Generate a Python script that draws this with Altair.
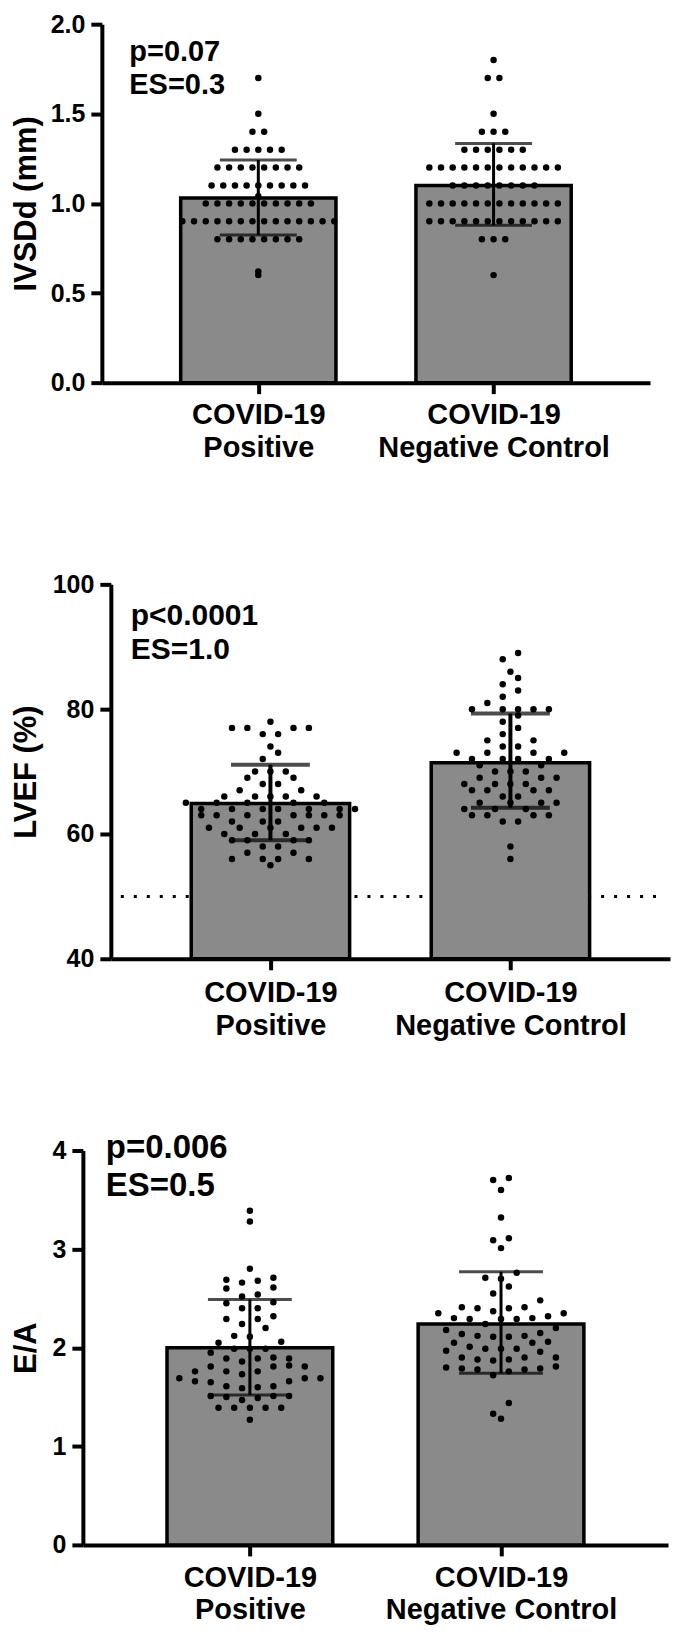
import math
import altair as alt
import pandas as pd

# ---------------- data ----------------
GROUPS = ["COVID-19|Positive", "COVID-19|Negative Control"]

IVSDD_POS = [1.7, 1.5, 1.4, 1.4,
             1.3, 1.3, 1.3, 1.3, 1.3,
             1.2, 1.2, 1.2, 1.2, 1.2, 1.2, 1.2, 1.2,
             1.1, 1.1, 1.1, 1.1, 1.1, 1.1, 1.1, 1.1, 1.1,
             1.04,
             1.0, 1.0, 1.0, 1.0, 1.0, 1.0, 1.0, 1.0, 1.0, 1.0,
             0.9, 0.9, 0.9, 0.9, 0.9, 0.9, 0.9, 0.9, 0.9, 0.9, 0.9, 0.9, 0.9, 0.9,
             0.8, 0.8, 0.8, 0.8, 0.8, 0.8, 0.8, 0.8,
             0.62, 0.6]
IVSDD_NEG = [1.8, 1.7, 1.7, 1.5, 1.4, 1.4, 1.4,
             1.3, 1.3, 1.3, 1.3, 1.3, 1.3,
             1.2, 1.2, 1.2, 1.2, 1.2, 1.2, 1.2, 1.2, 1.2, 1.2, 1.2, 1.2,
             1.1, 1.1, 1.1, 1.1, 1.1, 1.1, 1.1, 1.1,
             1.0, 1.0, 1.0, 1.0, 1.0, 1.0, 1.0, 1.0, 1.0, 1.0, 1.0, 1.0,
             0.9, 0.9, 0.9, 0.9, 0.9, 0.9, 0.9, 0.9, 0.9, 0.9, 0.9, 0.9,
             0.8, 0.8, 0.8, 0.6]
IVSDD_MEAN = [1.03, 1.10]
IVSDD_LO = [0.824, 0.878]
IVSDD_HI = [1.242, 1.335]

LVEF_POS = [78, 77, 77, 77, 77, 76, 76, 74, 73, 72, 70, 70, 70, 69, 69, 68, 68, 67, 67,
            66, 66, 66, 66, 66, 65, 65, 65, 65, 65,
            64, 64, 64, 64, 64, 64, 64, 63, 63, 63, 63, 63, 63, 63,
            62, 62, 62, 61, 61, 61, 61, 61, 61, 60, 60, 60, 59, 59, 59, 59,
            58, 58, 57, 57, 56, 56, 56, 56, 55]
LVEF_NEG = [89, 88, 86, 85, 84, 83, 82, 81, 80, 80, 80, 80, 80, 79, 78, 77, 76, 75, 75,
            74, 74, 73, 73, 73, 73, 72, 72, 72, 72, 71, 71, 70, 70, 70,
            69, 69, 69, 68, 68, 68, 68, 67, 67, 67, 67, 66, 66, 65, 65, 65, 65,
            64, 64, 64, 63, 63, 63, 63, 62, 62, 58, 56]
LVEF_MEAN = [64.9, 71.4]
LVEF_LO = [59.0, 64.2]
LVEF_HI = [71.1, 79.3]
LVEF_REF = [50]

EA_POS = [3.39, 3.28, 2.80, 2.71, 2.68, 2.69, 2.66, 2.60, 2.61, 2.54, 2.52, 2.46, 2.45,
          2.40, 2.40, 2.32, 2.29, 2.29, 2.24, 2.20, 2.12, 2.11, 2.05, 2.06, 1.99, 1.99,
          1.99, 1.95, 1.86, 1.89, 1.89, 1.90, 1.89, 1.82, 1.81, 1.81, 1.81, 1.76, 1.76,
          1.76, 1.69, 1.73, 1.69, 1.69, 1.66, 1.66, 1.65, 1.61, 1.60, 1.59, 1.61, 1.50,
          1.51, 1.51, 1.51, 1.47, 1.49, 1.39, 1.39, 1.39, 1.39, 1.39, 1.27]
EA_NEG = [3.70, 3.72, 3.60, 3.32, 3.11, 3.09, 3.01, 2.76, 2.70, 2.71, 2.62, 2.55, 2.48,
          2.40, 2.37, 2.40, 2.41, 2.41, 2.35, 2.32, 2.29, 2.29, 2.35, 2.30, 2.30, 2.29,
          2.24, 2.18, 2.20, 2.12, 2.15, 2.12, 2.11, 2.11, 2.14, 2.05, 2.05, 2.01, 2.06,
          1.96, 1.99, 1.97, 1.99, 1.99, 1.88, 1.88, 1.87, 1.90, 1.90, 1.90, 1.79, 1.80,
          1.78, 1.76, 1.78, 1.79, 1.81, 1.72, 1.44, 1.33, 1.28]
EA_MEAN = [2.00, 2.24]
EA_LO = [1.52, 1.74]
EA_HI = [2.49, 2.77]

ANN_IVSDD = "p=0.07\nES=0.3"
ANN_LVEF = "p<0.0001\nES=1.0"
ANN_EA = "p=0.006\nES=0.5"

# ---------------- style / layout ----------------
FONT = "Liberation Sans, Arial, Helvetica, sans-serif"
BAR_FILL = "#8a8a8a"
PAD_IN, PAD_OUT = 0.34, 0.335
PLOT_W, PLOT_H = 662, 1610


def swarm(values, ppu, col_px, bin_px, vmin):
    """Scatter-dot layout: values falling in the same vertical bin are spread
    side by side (centred), alternating between the distinct values of the bin."""
    bins = {}
    for i, v in enumerate(values):
        b = math.floor((v - vmin) * ppu / bin_px + 1e-9)
        bins.setdefault(b, []).append(i)
    offs = [0.0] * len(values)
    for b, idxs in bins.items():
        n = len(idxs)
        distinct = sorted(set(values[i] for i in idxs))
        queues = [[i for i in idxs if values[i] == v] for v in distinct]
        seq = []
        if n % 2 == 1:
            big = max(queues, key=len)
            seq.append(big.pop(0))
        while any(queues):
            for q in queues:
                for _ in range(2):
                    if q:
                        seq.append(q.pop(0))
        if n % 2 == 1:
            slots = [0.0]
            k = 1
            while len(slots) < n:
                slots += [-k, k]
                k += 1
        else:
            slots = []
            k = 0.5
            while len(slots) < n:
                slots += [-k, k]
                k += 1
        for i, s in zip(seq, slots):
            offs[i] = s
    return offs


def panel(pos, neg, means, lo, hi, ytitle, domain, ticks, fmt, xr, yr, col_px, bin_px,
          ann, ann_x, ann_y, ann_size, ann_lh, title_pad, lab_pad, lab_lh,
          err_w, cap_len, ref=None, ref_x=None):
    W = xr[1] - xr[0]
    ppu = (yr[0] - yr[1]) / (domain[1] - domain[0])
    step = W / (2 - PAD_IN + 2 * PAD_OUT)
    half_bar = (1 - PAD_IN) / 2
    margin = PAD_OUT + half_bar
    rows = []
    for gi, vals in enumerate([pos, neg]):
        offs = swarm(vals, ppu, col_px, bin_px, domain[0])
        for v, o in zip(vals, offs):
            rows.append({"gx": gi, "value": v, "xd": gi + o * col_px / step})
    dots_df = pd.DataFrame(rows)
    summ = pd.DataFrame({"gx": [0, 1], "mean": means, "lo": lo, "hi": hi,
                         "x0": [g - half_bar for g in (0, 1)],
                         "x1": [g + half_bar for g in (0, 1)],
                         "base": [domain[0], domain[0]]})

    label_expr = "datum.value == 0 ? split('{0}', '|') : split('{1}', '|')".format(*GROUPS)
    xscale = alt.Scale(domain=[-margin, 1 + margin], range=list(xr), nice=False, zero=False)
    xaxis = alt.Axis(orient="bottom", offset=yr[0] - PLOT_H, title=None,
                     values=[0, 1], labelExpr=label_expr, labelAngle=0,
                     labelFontSize=29, labelFontWeight="bold", labelFont=FONT,
                     labelLineHeight=lab_lh, labelPadding=lab_pad, labelColor="black",
                     labelLimit=1000, labelOverlap=False, labelFlush=False, labelBound=False,
                     tickSize=11, tickWidth=4, tickColor="black",
                     domainWidth=4, domainColor="black", grid=False)
    yscale = alt.Scale(domain=domain, range=list(yr), nice=False, zero=False)
    yaxis = alt.Axis(orient="left", offset=-xr[0], values=ticks, format=fmt, title=ytitle,
                     titleFontSize=31, titleFontWeight="bold", titleFont=FONT,
                     titleColor="black", titlePadding=title_pad, labelFontSize=25,
                     labelFontWeight="bold", labelFont=FONT, labelColor="black",
                     labelPadding=6, tickSize=11, tickWidth=4, tickColor="black",
                     domainWidth=4, domainColor="black", grid=False)

    def X(f):
        return alt.X(f, scale=xscale, axis=xaxis)

    def Y(f):
        return alt.Y(f, scale=yscale, axis=yaxis, title=ytitle)

    layers = []
    if ref is not None:
        layers.append(alt.Chart(pd.DataFrame({"ref": ref})).mark_rule(
            strokeDash=[3, 10], strokeWidth=3, color="black").encode(
            y=Y("ref:Q"), x=alt.value(ref_x[0]), x2=alt.value(ref_x[1])))
    layers.append(alt.Chart(summ).mark_bar(fill=BAR_FILL, stroke="black", strokeWidth=3.5).encode(
        x=X("x0:Q"), x2="x1:Q", y=Y("mean:Q"), y2="base:Q"))
    layers.append(alt.Chart(dots_df).mark_circle(size=42, color="black", opacity=1).encode(
        x=X("xd:Q"), y=Y("value:Q")))
    layers.append(alt.Chart(summ).mark_rule(strokeWidth=err_w, color="black").encode(
        x=X("gx:Q"), y=Y("lo:Q"), y2="hi:Q"))
    for f in ["lo", "hi"]:
        layers.append(alt.Chart(summ).mark_tick(size=cap_len, thickness=err_w, color="black",
                                                orient="horizontal").encode(
            x=X("gx:Q"), y=Y(f + ":Q")))
    layers.append(alt.Chart(pd.DataFrame({"t": [ann]})).mark_text(
        align="left", baseline="top", lineBreak="\n", lineHeight=ann_lh,
        fontSize=ann_size, fontWeight="bold", font=FONT, color="black").encode(
        text="t:N", x=alt.value(ann_x), y=alt.value(ann_y)))
    return alt.layer(*layers)


# positions below are in plot pixels (page pixel minus the page margin)
p1 = panel(IVSDD_POS, IVSDD_NEG, IVSDD_MEAN, IVSDD_LO, IVSDD_HI, "IVSDd (mm)",
           [0, 2], [0, 0.5, 1.0, 1.5, 2.0], ".1f", (91, 640), (374, 15), 11.7, 6,
           ANN_IVSDD, 118.5, 28.5, 29, 33.5, 7.25, 7, 33, 3, 77)
p2 = panel(LVEF_POS, LVEF_NEG, LVEF_MEAN, LVEF_LO, LVEF_HI, "LVEF (%)",
           [40, 100], [40, 60, 80, 100], "d", (100, 660), (951, 576), 15.4, 12.5,
           ANN_LVEF, 120, 593, 30, 33.5, 9.3, 9, 33, 4, 79,
           ref=LVEF_REF, ref_x=(110, 654))
p3 = panel(EA_POS, EA_NEG, EA_MEAN, EA_LO, EA_HI, "E/A",
           [0, 4], [0, 1, 2, 3, 4], "d", (72, 658), (1538, 1143), 15.7, 13,
           ANN_EA, 95, 1125, 33, 38, 9.1, 8, 32, 3, 84)

chart = alt.layer(p1, p2, p3).resolve_scale(
    x="independent", y="independent"
).resolve_axis(
    x="independent", y="independent"
).properties(
    width=PLOT_W, height=PLOT_H,
    padding={"left": 2, "top": 0, "right": 0, "bottom": 0}
).configure(background="white").configure_view(stroke=None, strokeWidth=0)

chart.save("out.html", embed_options={"renderer": "svg", "actions": False})
